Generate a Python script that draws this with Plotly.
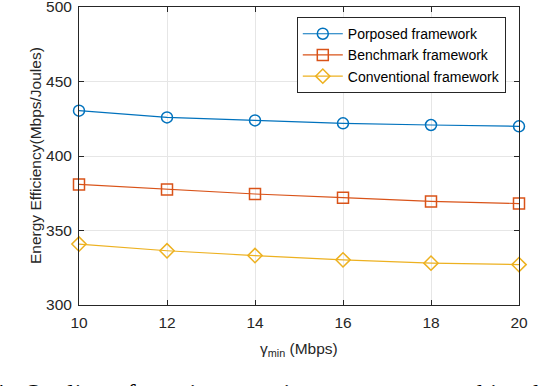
import plotly.graph_objects as go

# data
gamma_min = [10, 12, 14, 16, 18, 20]
proposed = [430.4, 425.9, 423.9, 421.9, 420.8, 419.9]
benchmark = [380.9, 377.6, 374.5, 372.0, 369.5, 368.1]
conventional = [340.9, 336.4, 333.2, 330.3, 328.1, 327.1]

series = [
    ("Porposed framework", proposed, "#0072BD", "circle-open"),
    ("Benchmark framework", benchmark, "#D95319", "square-open"),
    ("Conventional framework", conventional, "#EDB120", "diamond-open"),
]

# caption words (justified line, cut by the bottom edge)
caption_words = ["4.", "Quality", "of", "service", "requirement", "versus", "achievable"]
caption_left = [-0.203, -0.130, 0.075, 0.148, 0.355, 0.657, 0.848]

fig = go.Figure()
for name, vals, color, sym in series:
    fig.add_trace(go.Scatter(
        x=gamma_min, y=vals, name=name, mode="lines+markers",
        line=dict(color=color, width=1.2),
        marker=dict(symbol=sym, size=11, color=color, line=dict(color=color, width=1.5)),
        cliponaxis=False,
    ))

axis_style = dict(
    showline=True, linecolor="#262626", linewidth=1, mirror="ticks",
    ticks="inside", ticklen=5, tickcolor="#262626",
    showgrid=True, gridcolor="#E6E6E6", gridwidth=1,
    zeroline=False, tickfont=dict(size=15.5, color="#262626"),
    ticklabeloverflow="allow", automargin=False, ticklabelstandoff=3,
)

fig.update_xaxes(range=[10, 20], tickvals=[10, 12, 14, 16, 18, 20], **axis_style)
fig.update_yaxes(range=[300, 500], tickvals=[300, 350, 400, 450, 500], **axis_style)

# axis titles
fig.add_annotation(text="γ<sub>min</sub> (Mbps)", xref="paper", yref="paper",
                   x=0.5, y=-0.151, xanchor="center", yanchor="middle", showarrow=False,
                   font=dict(size=15.5, color="#262626"))
fig.add_annotation(text="Energy Efficiency(Mbps/Joules)", xref="paper", yref="paper",
                   x=-0.1, y=0.5, xanchor="center", yanchor="middle", textangle=-90,
                   showarrow=False, font=dict(size=15.5, color="#262626"))

for word, xl in zip(caption_words, caption_left):
    fig.add_annotation(text=word, xref="paper", yref="paper", x=xl, y=-0.296,
                       xanchor="left", yanchor="middle", showarrow=False,
                       font=dict(family="Liberation Serif", size=26, color="black"))

fig.update_layout(
    width=544, height=386,
    margin=dict(l=79, r=25, t=7, b=81),
    plot_bgcolor="white", paper_bgcolor="white",
    font=dict(family="Liberation Sans, Arial", color="#262626"),
    legend=dict(x=0.97, y=0.966, xanchor="right", yanchor="top",
                bgcolor="white", bordercolor="#262626", borderwidth=1,
                font=dict(size=14, color="black"), tracegroupgap=0,
                itemwidth=40),
    showlegend=True,
)

# drop the browser's default page margin so the figure sits at (0, 0)
fig.write_html("out.html", config={"displayModeBar": False},
               post_script="document.body.style.margin='0';")
